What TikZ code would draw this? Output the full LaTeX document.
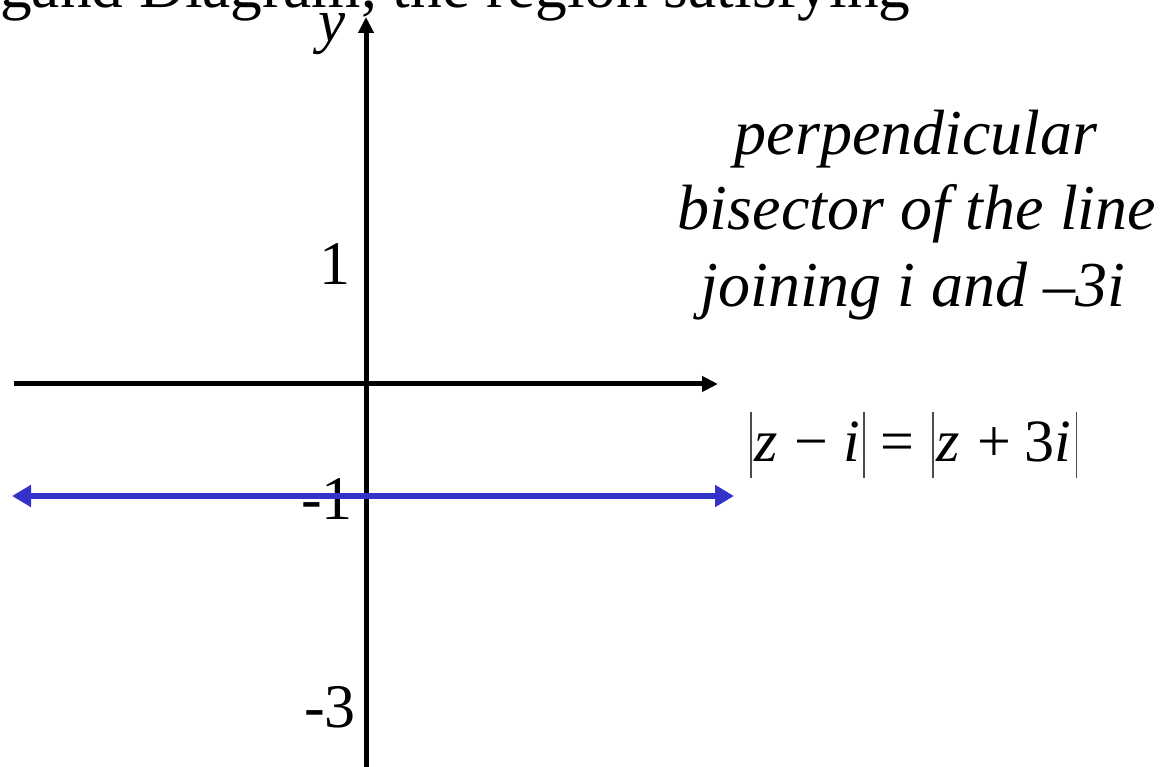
\documentclass[tikz,border=0pt]{standalone}
\usepackage{fontspec}
\setmainfont{Liberation Serif}
\usetikzlibrary{arrows.meta}
\definecolor{lineblue}{RGB}{51,51,204}
\begin{document}
\begin{tikzpicture}[x=1pt,y=1pt,
  axis/.style={line width=5pt,-{Triangle[length=16pt,width=15pt]}},
  locus/.style={line width=6.5pt,color=lineblue,{Triangle[length=19pt,width=21pt]}-{Triangle[length=19pt,width=21pt]}},
  lbl/.style={inner sep=0pt,font=\fontsize{62}{70}\selectfont},
  itl/.style={inner sep=0pt,anchor=base,font=\fontsize{64}{72}\selectfont\itshape},
  ttl/.style={inner sep=0pt,font=\fontsize{63.4}{70}\selectfont}]
\clip (0,0) rectangle (1164,767);
% title (cut off at the top)
\node[ttl,anchor=base west] (title) at (0,759) {gand Diagram, the region satisfying};
% axes
\coordinate (yb) at (366,-10);
\coordinate (yt) at (366,750);
\coordinate (xl) at (14,383);
\coordinate (xr) at (718,383);
\draw[axis] (yb) -- (yt);
\draw[axis] (xl) -- (xr);
% labels
\node[lbl,anchor=base east,font=\fontsize{61}{70}\selectfont\itshape] (ylab) at (346,725) {y};
\node[lbl,anchor=base east] (one) at (351,482) {1};
\node[lbl,anchor=base east] (mone) at (353,247) {-1};
\node[lbl,anchor=base east] (mthree) at (356,39) {-3};
% description
\node[itl] (d1) at (916,612) {perpendicular};
\node[itl] (d2) at (917,537) {bisector of the line};
\node[itl] (d3) at (913,460) {joining i and –3i};
% equation
\node[inner sep=0pt,anchor=base west,font=\fontsize{60}{70}\selectfont] (eq) at (750,305)
 {\color{black!70}\rule[-16pt]{1.4pt}{66pt}\color{black}\kern3pt\textit{z}\kern17pt−\kern15pt\textit{i}\kern3pt\color{black!70}\rule[-16pt]{1.4pt}{66pt}\color{black}\kern15.5pt=\kern18pt\color{black!70}\rule[-16pt]{1.4pt}{66pt}\color{black}\kern2.5pt\textit{z}\kern18pt+\kern13pt3\textit{i}\kern5pt\color{black!70}\rule[-16pt]{1.4pt}{66pt}};
% locus line
\coordinate (ll) at (12,271);
\coordinate (lr) at (734,271);
\draw[locus] (ll) -- (lr);
\end{tikzpicture}
\end{document}
